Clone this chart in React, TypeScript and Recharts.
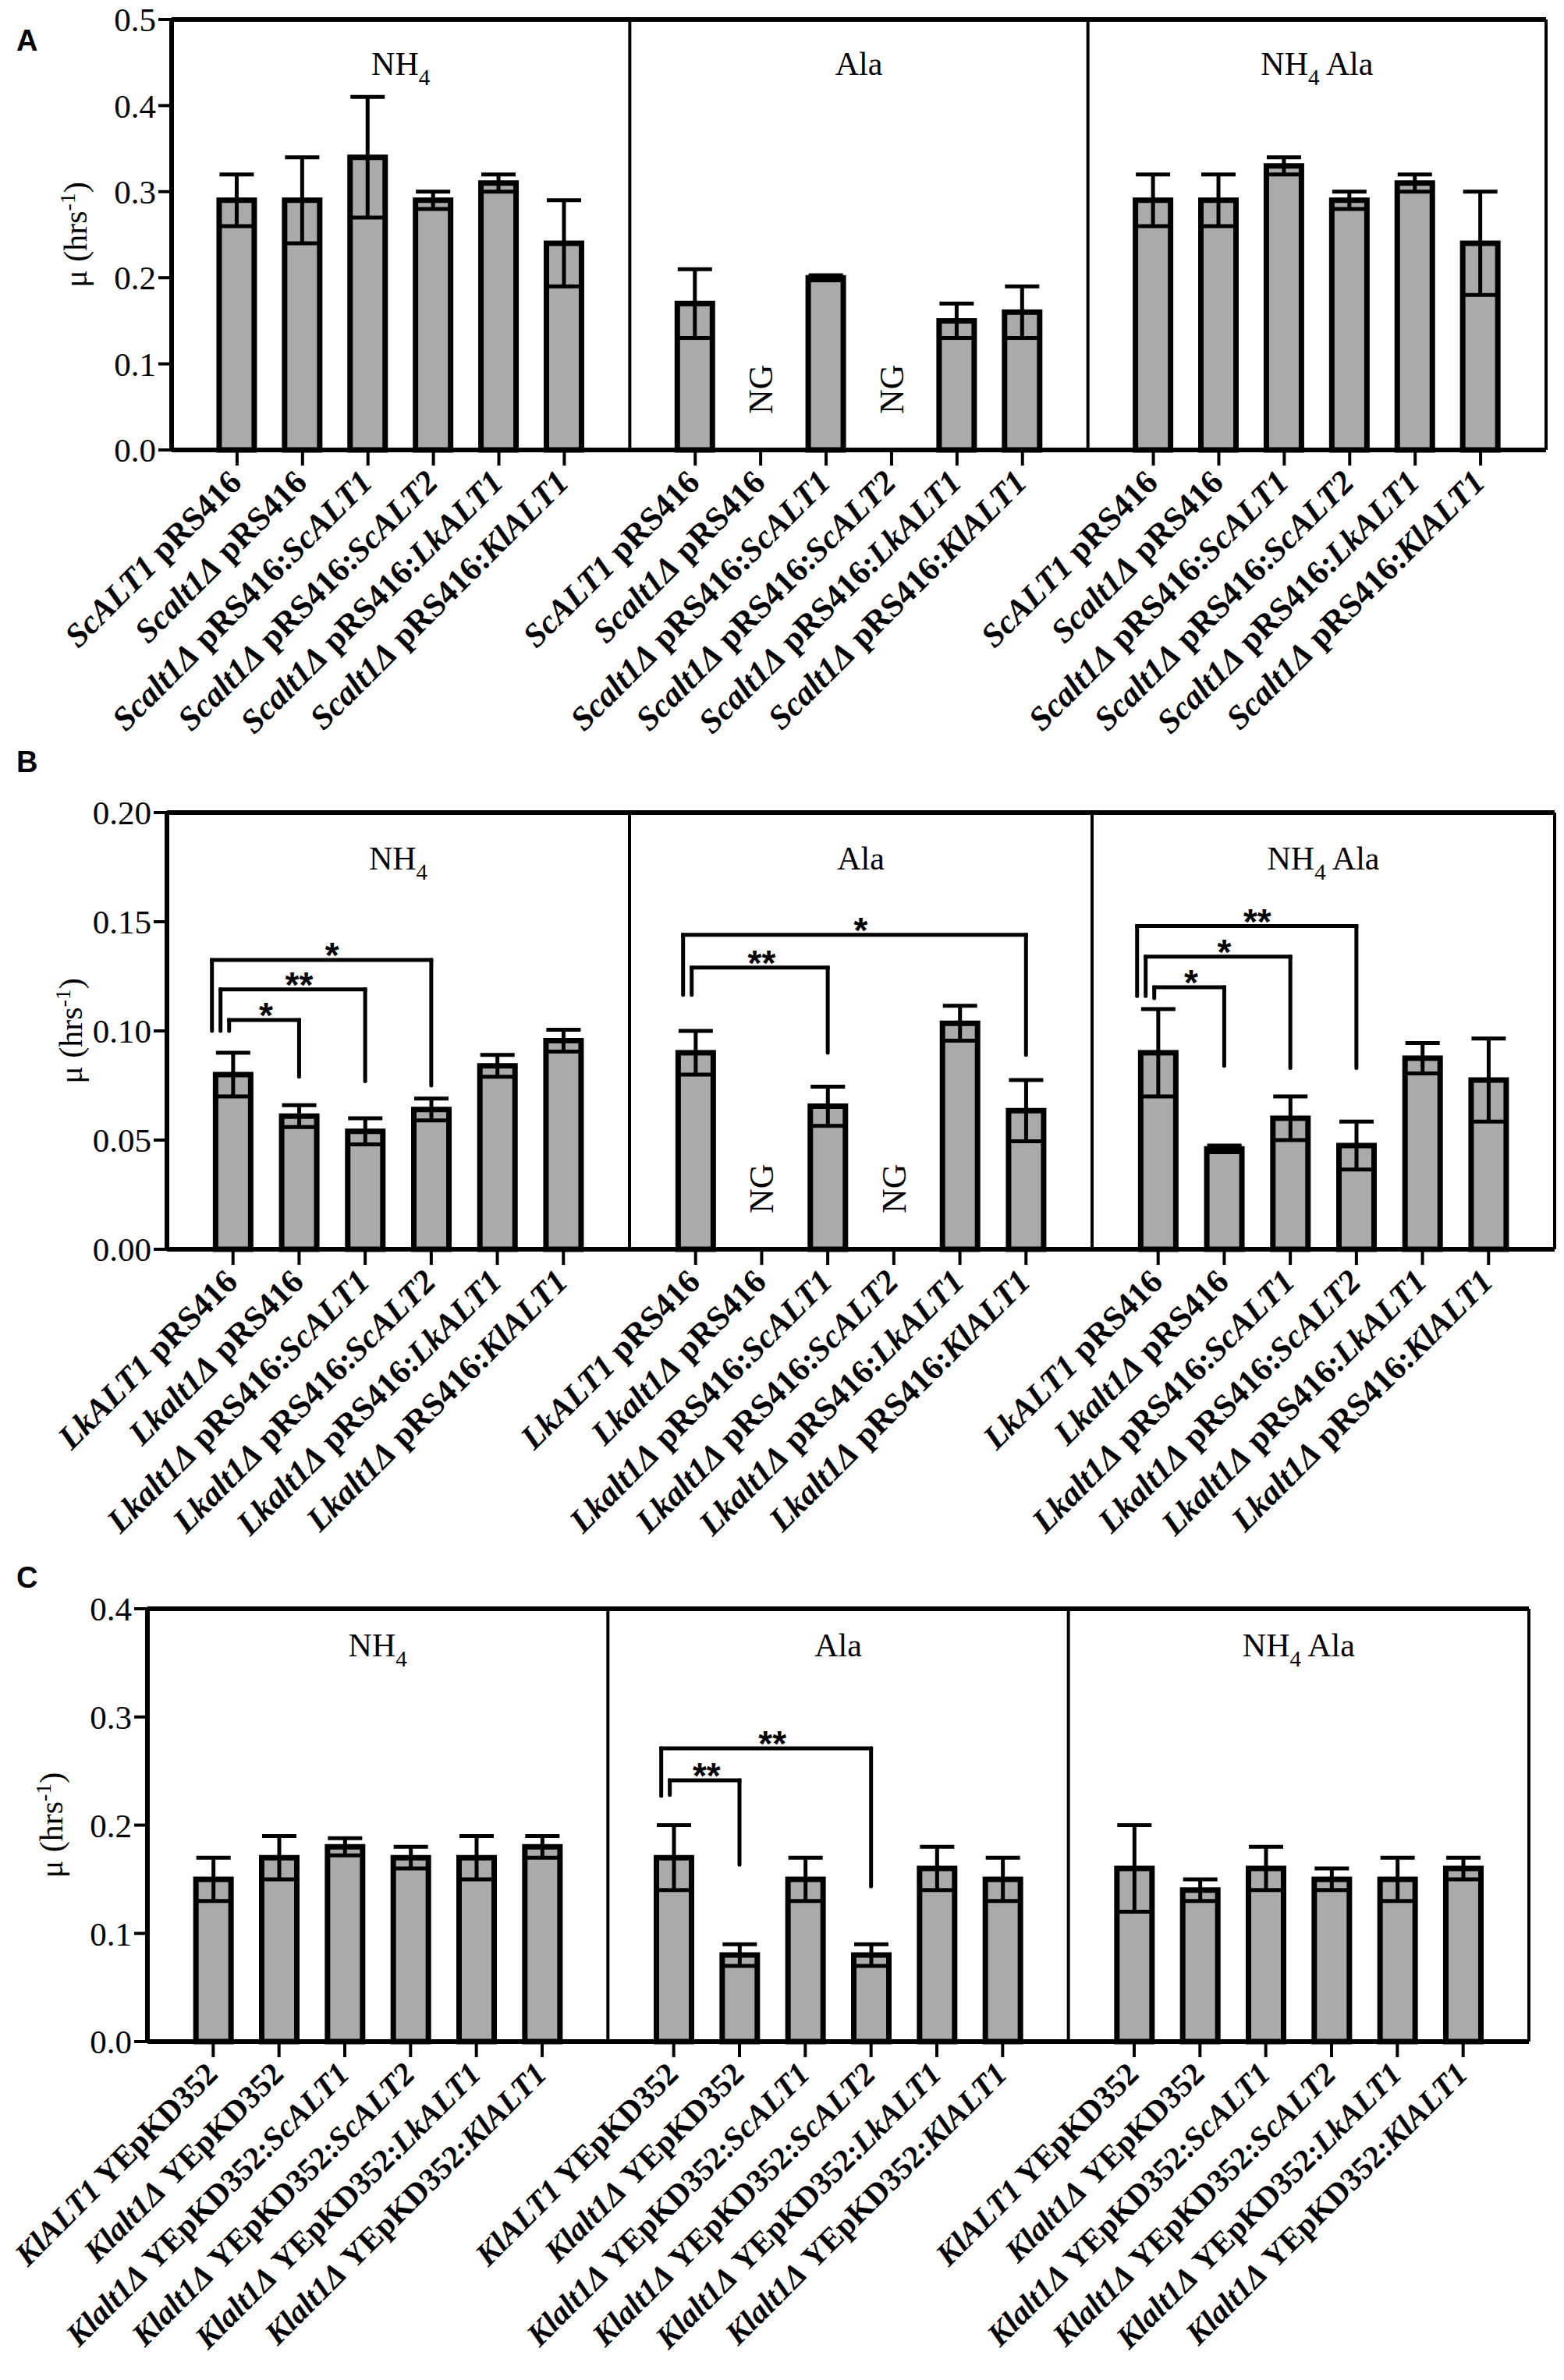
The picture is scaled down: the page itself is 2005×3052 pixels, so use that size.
import React from 'react';
import { BarChart, Bar, XAxis, YAxis, ErrorBar, ReferenceLine } from 'recharts';

const SERIF = '"Liberation Serif", "Times New Roman", serif';
const SANS = '"Liberation Sans", Arial, sans-serif';

// media groups, left to right in every panel
const groups = ['NH4', 'Ala', 'NH4 Ala'];

// strain part of each tick label (italic), plasmid (upright), insert (italic)
const strainsA = ['ScALT1', 'Scalt1Δ', 'Scalt1Δ', 'Scalt1Δ', 'Scalt1Δ', 'Scalt1Δ'];
const strainsB = ['LkALT1', 'Lkalt1Δ', 'Lkalt1Δ', 'Lkalt1Δ', 'Lkalt1Δ', 'Lkalt1Δ'];
const strainsC = ['KlALT1', 'Klalt1Δ', 'Klalt1Δ', 'Klalt1Δ', 'Klalt1Δ', 'Klalt1Δ'];
const inserts = ['', '', 'ScALT1', 'ScALT2', 'LkALT1', 'KlALT1'];
const plasmidAB = 'pRS416';
const plasmidC = 'YEpKD352';

// growth rate (hrs^-1), 18 bars: NH4 x6, Ala x6, NH4 Ala x6 ; null = NG
const meanA = [0.29, 0.29, 0.34, 0.29, 0.31, 0.24, 0.17, null, 0.2, null, 0.15, 0.16, 0.29, 0.29, 0.33, 0.29, 0.31, 0.24];
const errA = [0.03, 0.05, 0.07, 0.01, 0.01, 0.05, 0.04, null, 0.003, null, 0.02, 0.03, 0.03, 0.03, 0.01, 0.01, 0.01, 0.06];

const meanB = [0.08, 0.061, 0.054, 0.064, 0.084, 0.0955, 0.09, null, 0.0655, null, 0.1035, 0.0635, 0.09, 0.046, 0.06, 0.0475, 0.0875, 0.0775];
const errB = [0.01, 0.005, 0.006, 0.005, 0.005, 0.005, 0.01, null, 0.009, null, 0.008, 0.014, 0.02, 0.0015, 0.01, 0.011, 0.007, 0.019];

const meanC = [0.15, 0.17, 0.18, 0.17, 0.17, 0.18, 0.17, 0.08, 0.15, 0.08, 0.16, 0.15, 0.16, 0.14, 0.16, 0.15, 0.15, 0.16];
const errC = [0.02, 0.02, 0.008, 0.01, 0.02, 0.01, 0.03, 0.01, 0.02, 0.01, 0.02, 0.02, 0.04, 0.01, 0.02, 0.01, 0.02, 0.01];

const ticksA = [0, 0.1, 0.2, 0.3, 0.4, 0.5];
const ticksB = [0, 0.05, 0.1, 0.15, 0.2];
const ticksC = [0, 0.1, 0.2, 0.3, 0.4];

// significance brackets: bar a vs bar b, top of bracket, left/right leg ends, nesting level
const bracketsB = [
  { a: 0, b: 1, top: 0.105, l: 0.1, r: 0.079, nest: 0, label: '*' },
  { a: 0, b: 2, top: 0.119, l: 0.1, r: 0.077, nest: 1, label: '**' },
  { a: 0, b: 3, top: 0.1325, l: 0.1, r: 0.075, nest: 2, label: '*' },
  { a: 6, b: 8, top: 0.129, l: 0.1165, r: 0.09, nest: 0, label: '**' },
  { a: 6, b: 11, top: 0.144, l: 0.1165, r: 0.089, nest: 1, label: '*' },
  { a: 12, b: 13, top: 0.12, l: 0.115, r: 0.084, nest: 0, label: '*' },
  { a: 12, b: 14, top: 0.134, l: 0.116, r: 0.083, nest: 1, label: '*' },
  { a: 12, b: 15, top: 0.148, l: 0.116, r: 0.083, nest: 2, label: '**' },
];
const bracketsC = [
  { a: 6, b: 7, top: 0.2415, l: 0.228, r: 0.1635, nest: 0, label: '**' },
  { a: 6, b: 9, top: 0.271, l: 0.227, r: 0.1435, nest: 1, label: '**' },
];

type Row = {
  key: string;
  strain?: string;
  plasmid?: string;
  insert?: string;
  mean?: number | null;
  err?: number | null;
};

const barKey = (k: number) => `b${k}`;

function buildRows(strains: string[], plasmid: string, means: (number | null)[], errs: (number | null)[]) {
  const rows: Row[] = [];
  groups.forEach((_, gi) => {
    if (gi > 0) rows.push({ key: `gap${gi}` });
    strains.forEach((s, i) => {
      const k = gi * 6 + i;
      rows.push({ key: barKey(k), strain: s, plasmid, insert: inserts[i], mean: means[k], err: errs[k] });
    });
  });
  return rows;
}

const XTick = (props: any) => {
  const { x, y, payload, rows, size } = props;
  const row = rows.find((r: Row) => r.key === payload.value);
  if (!row || !row.strain) return null;
  return (
    <g>
      <line x1={x} x2={x} y1={y} y2={y + 20} stroke="#000" strokeWidth={4} />
      <text
        transform={`translate(${x + 8},${y + 44}) rotate(-45)`}
        textAnchor="end"
        fontFamily={SERIF}
        fontSize={size}
        fontWeight="bold"
        fill="#000"
        style={{ whiteSpace: 'pre' }}
      >
        <tspan fontStyle="italic">{row.strain}</tspan>
        <tspan>{` ${row.plasmid}${row.insert ? ':' : ''}`}</tspan>
        {row.insert ? <tspan fontStyle="italic">{row.insert}</tspan> : null}
      </text>
    </g>
  );
};

const YLabel = (props: any) => {
  const vb = props.viewBox || {};
  const bx = vb.x + vb.width - 109;
  const cy = vb.y + vb.height / 2;
  return (
    <text
      x={bx}
      y={cy}
      transform={`rotate(-90 ${bx} ${cy})`}
      textAnchor="middle"
      fontFamily={SERIF}
      fontSize={42}
      fill="#000"
    >
      μ (hrs<tspan dy={-15} fontSize={28}>-1</tspan>
      <tspan dy={15}>)</tspan>
    </text>
  );
};

const GroupTitle = ({ name, x, y }: { name: string; x: number; y: number }) => {
  const hasNH4 = name.startsWith('NH4');
  const rest = name.replace('NH4', '');
  return (
    <text x={x} y={y} textAnchor="middle" fontFamily={SERIF} fontSize={42} fill="#000" style={{ whiteSpace: 'pre' }}>
      {hasNH4 ? (
        <>
          <tspan>NH</tspan>
          <tspan dy={13} fontSize={29}>4</tspan>
          {rest ? <tspan dy={-13}>{rest}</tspan> : null}
        </>
      ) : (
        name
      )}
    </text>
  );
};

type PanelProps = {
  letter: string;
  top: number;
  height: number;
  marginTop: number;
  marginRight: number;
  yAxisWidth: number;
  xAxisHeight: number;
  rows: Row[];
  yMax: number;
  yTicks: number[];
  decimals: number;
  titleY: number;
  brackets: typeof bracketsB;
  letterTop: number;
  labelSize: number;
};

function Panel(p: PanelProps) {
  const W = 2005;
  const plotW = W - p.yAxisWidth - p.marginRight - 1;
  const unit = plotW / 21;
  const ngKeys = p.rows.filter((r) => r.strain && (r.mean === null || r.mean === undefined)).map((r) => r.key);
  const common = { xAxisId: 'b', yAxisId: 'l', ifOverflow: 'visible' as const };

  return (
    <>
      <div
        style={{
          position: 'absolute',
          left: 21,
          top: p.letterTop,
          fontFamily: SANS,
          fontWeight: 'bold',
          fontSize: 38,
          lineHeight: '38px',
        }}
      >
        {p.letter}
      </div>
      <div style={{ position: 'absolute', left: 0, top: p.top, width: W, height: p.height }}>
        <BarChart
          width={W}
          height={p.height}
          data={p.rows}
          margin={{ top: p.marginTop, right: p.marginRight, left: 0, bottom: 0 }}
          barCategoryGap={0}
        >
          <XAxis
            xAxisId="t"
            orientation="top"
            dataKey="key"
            tick={false}
            tickLine={false}
            height={1}
            axisLine={{ stroke: '#000', strokeWidth: 6 }}
          />
          <XAxis
            xAxisId="b"
            dataKey="key"
            interval={0}
            padding={{ left: unit / 2, right: unit / 2 }}
            height={p.xAxisHeight}
            tickLine={false}
            tickSize={0}
            tickMargin={0}
            axisLine={{ stroke: '#000', strokeWidth: 6 }}
            tick={(tp: any) => <XTick {...tp} rows={p.rows} size={p.labelSize} />}
          />
          <YAxis
            yAxisId="l"
            type="number"
            domain={[0, p.yMax]}
            ticks={p.yTicks}
            interval={0}
            width={p.yAxisWidth}
            tickSize={17}
            tickMargin={3}
            tickFormatter={(v: number) => v.toFixed(p.decimals)}
            tick={{ fontFamily: SERIF, fontSize: 43, fill: '#000' }}
            tickLine={{ stroke: '#000', strokeWidth: 4 }}
            axisLine={{ stroke: '#000', strokeWidth: 6 }}
            label={<YLabel />}
          />
          <YAxis
            yAxisId="r"
            orientation="right"
            type="number"
            domain={[0, p.yMax]}
            width={1}
            tick={false}
            tickLine={false}
            axisLine={{ stroke: '#000', strokeWidth: 4 }}
          />
          <ReferenceLine {...common} x="gap1" stroke="#000" strokeWidth={4} />
          <ReferenceLine {...common} x="gap2" stroke="#000" strokeWidth={4} />
          {groups.map((g, gi) => (
            <ReferenceLine
              key={`title${gi}`}
              {...common}
              segment={[
                { x: barKey(gi * 6 + 2), y: p.titleY },
                { x: barKey(gi * 6 + 3), y: p.titleY },
              ]}
              shape={(s: any) => <GroupTitle name={g} x={(s.x1 + s.x2) / 2} y={s.y1} />}
            />
          ))}
          {ngKeys.map((k) => (
            <ReferenceLine
              key={`ng${k}`}
              {...common}
              segment={[
                { x: k, y: 0 },
                { x: k, y: 0 },
              ]}
              shape={(s: any) => (
                <text
                  x={s.x1 + 15}
                  y={s.y1 - 46}
                  transform={`rotate(-90 ${s.x1 + 15} ${s.y1 - 46})`}
                  fontFamily={SERIF}
                  fontSize={44}
                  fill="#000"
                >
                  NG
                </text>
              )}
            />
          ))}
          <Bar
            xAxisId="b"
            yAxisId="l"
            dataKey="mean"
            fill="#aaaaaa"
            stroke="#000"
            strokeWidth={7}
            barSize={45}
            isAnimationActive={false}
          >
            <ErrorBar dataKey="err" width={22} strokeWidth={5} stroke="#000" isAnimationActive={false} />
          </Bar>
          {p.brackets.map((br, i) => {
            const dx = -5 - 11 * br.nest;
            return [
              <ReferenceLine
                key={`bt${i}`}
                {...common}
                segment={[
                  { x: barKey(br.a), y: br.top },
                  { x: barKey(br.b), y: br.top },
                ]}
                shape={(s: any) => (
                  <g>
                    <line x1={s.x1 + dx} y1={s.y1} x2={s.x2} y2={s.y2} stroke="#000" strokeWidth={5} strokeLinecap="square" />
                    <text
                      x={(s.x1 + s.x2) / 2}
                      y={s.y1 + 10}
                      textAnchor="middle"
                      fontFamily={SANS}
                      fontSize={46}
                      fontWeight="bold"
                      fill="#000"
                    >
                      {br.label}
                    </text>
                  </g>
                )}
              />,
              <ReferenceLine
                key={`bl${i}`}
                {...common}
                segment={[
                  { x: barKey(br.a), y: br.top },
                  { x: barKey(br.a), y: br.l },
                ]}
                shape={(s: any) => (
                  <line x1={s.x1 + dx} y1={s.y1} x2={s.x2 + dx} y2={s.y2} stroke="#000" strokeWidth={5} strokeLinecap="round" />
                )}
              />,
              <ReferenceLine
                key={`br${i}`}
                {...common}
                segment={[
                  { x: barKey(br.b), y: br.top },
                  { x: barKey(br.b), y: br.r },
                ]}
                shape={(s: any) => (
                  <line x1={s.x1} y1={s.y1} x2={s.x2} y2={s.y2} stroke="#000" strokeWidth={5} strokeLinecap="round" />
                )}
              />,
            ];
          })}
        </BarChart>
      </div>
    </>
  );
}

export default function App() {
  const rowsA = buildRows(strainsA, plasmidAB, meanA, errA);
  const rowsB = buildRows(strainsB, plasmidAB, meanB, errB);
  const rowsC = buildRows(strainsC, plasmidC, meanC, errC);

  return (
    <div style={{ position: 'absolute', left: 0, top: 0, width: 2005, height: 3052, background: '#fff', overflow: 'hidden' }}>
      <Panel
        letter="A"
        letterTop={33}
        top={0}
        height={1040}
        marginTop={24}
        marginRight={22}
        yAxisWidth={220}
        xAxisHeight={463}
        rows={rowsA}
        yMax={0.5}
        yTicks={ticksA}
        decimals={1}
        titleY={0.436}
        brackets={[]}
        labelSize={43}
      />
      <Panel
        letter="B"
        letterTop={958}
        top={960}
        height={1060}
        marginTop={81}
        marginRight={11}
        yAxisWidth={214}
        xAxisHeight={418}
        rows={rowsB}
        yMax={0.2}
        yTicks={ticksB}
        decimals={2}
        titleY={0.174}
        brackets={bracketsB}
        labelSize={43}
      />
      <Panel
        letter="C"
        letterTop={2004}
        top={2000}
        height={1052}
        marginTop={62}
        marginRight={44}
        yAxisWidth={189}
        xAxisHeight={434}
        rows={rowsC}
        yMax={0.4}
        yTicks={ticksC}
        decimals={1}
        titleY={0.356}
        brackets={bracketsC}
        labelSize={41}
      />
    </div>
  );
}
